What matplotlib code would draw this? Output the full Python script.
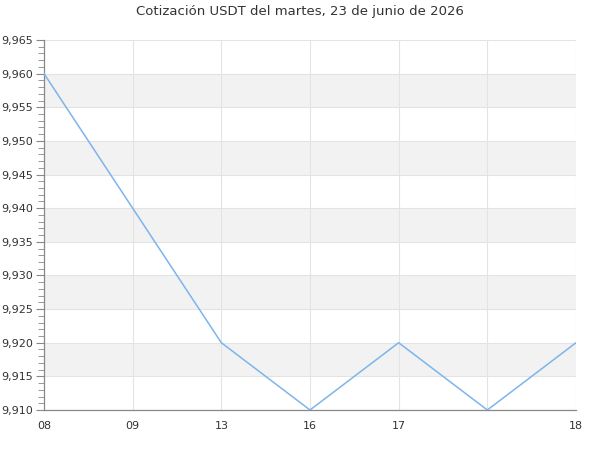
import matplotlib
matplotlib.use("Agg")
import matplotlib.pyplot as plt
from matplotlib.ticker import MultipleLocator, FuncFormatter

title = "Cotización USDT del martes, 23 de junio de 2026"
labels = ["08", "09", "13", "16", "17", "", "18"]
values = [9.960, 9.940, 9.920, 9.910, 9.920, 9.910, 9.920]
y_min, y_max, y_step = 9.910, 9.965, 0.005

fig = plt.figure(figsize=(6, 4.5), dpi=100)
ax = fig.add_axes([44/600, 1-410/450, (576-44)/600, (410-40)/450])

x = list(range(len(values)))
# alternating bands
k = 0
yv = y_min
while yv < y_max - 1e-9:
    if k % 2 == 1:
        ax.axhspan(yv, yv + y_step, color="#f2f2f2", zorder=0, lw=0)
    yv += y_step
    k += 1

ax.plot(x, values, color="#7cb5ec", lw=1.1, zorder=3)
ax.set_xlim(0, len(values) - 1)
ax.set_ylim(y_min, y_max)
ax.set_xticks(x)
ax.set_xticklabels(labels)
ax.yaxis.set_major_locator(MultipleLocator(y_step))
ax.yaxis.set_minor_locator(MultipleLocator(0.001))
ax.yaxis.set_major_formatter(FuncFormatter(lambda v, p: f"{v:.3f}".replace(".", ",")))
ax.grid(True, which="major", color="#e3e3e3", lw=0.8, zorder=1)
ax.set_axisbelow(True)
for s in ["top", "right"]:
    ax.spines[s].set_visible(False)
for s in ["left", "bottom"]:
    ax.spines[s].set_color("#888888")
    ax.spines[s].set_linewidth(0.9)
ax.tick_params(axis="x", length=0, pad=8, labelsize=8, labelcolor="#333333")
ax.tick_params(axis="y", which="major", length=6, color="#888888", labelsize=8, labelcolor="#333333", pad=2)
ax.tick_params(axis="y", which="minor", length=4, color="#888888")
fig.suptitle(title, y=1-11/450, va="center", fontsize=9.5, color="#333333")
fig.savefig("out.png", dpi=100)
